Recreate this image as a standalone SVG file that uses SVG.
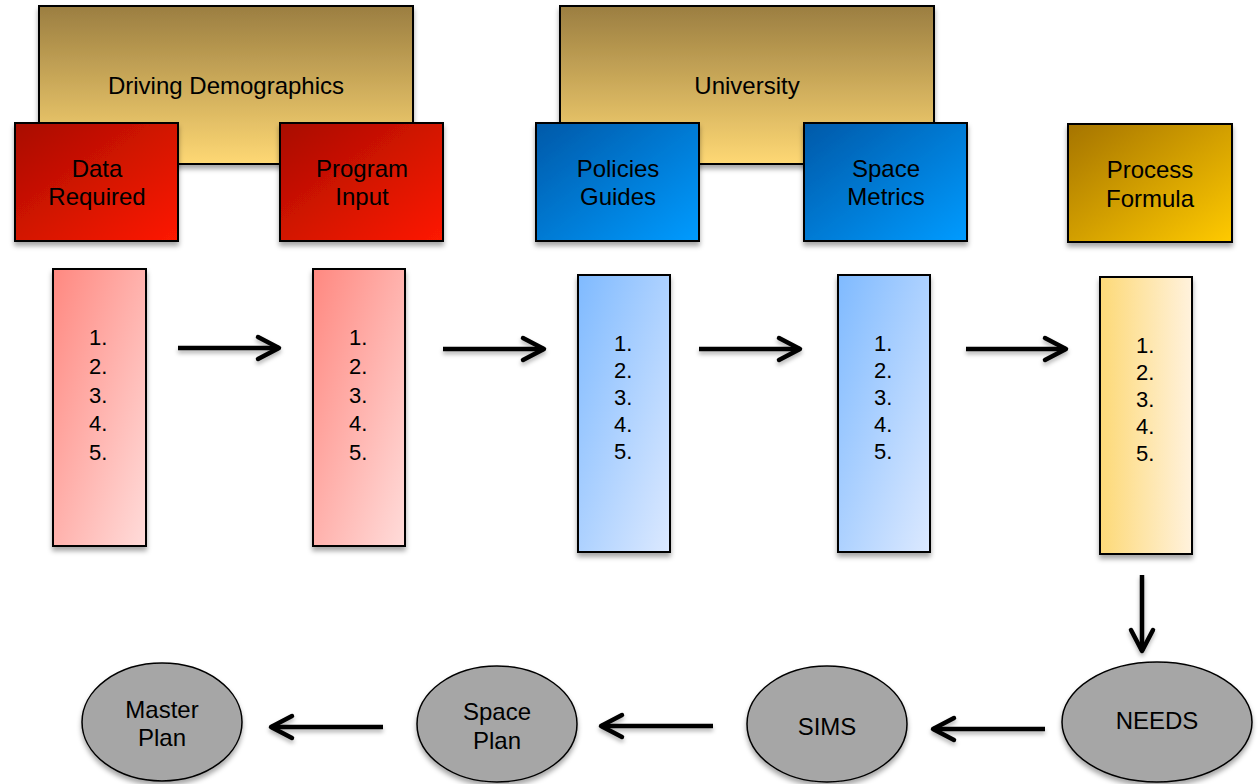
<svg xmlns="http://www.w3.org/2000/svg" width="1259" height="784" viewBox="0 0 1259 784">
<defs>
<linearGradient id="gTan" x1="0" y1="0" x2="0" y2="1"><stop offset="0" stop-color="#9b7e41"/><stop offset="1" stop-color="#fed874"/></linearGradient>
<linearGradient id="gRed" x1="0" y1="0" x2="1" y2="1"><stop offset="0" stop-color="#a80c00"/><stop offset="1" stop-color="#fe1a00"/></linearGradient>
<linearGradient id="gBlue" x1="0" y1="0" x2="1" y2="1"><stop offset="0" stop-color="#0059a8"/><stop offset="1" stop-color="#009bff"/></linearGradient>
<linearGradient id="gGold" x1="0" y1="0" x2="1" y2="1"><stop offset="0" stop-color="#a57400"/><stop offset="1" stop-color="#ffca00"/></linearGradient>
<linearGradient id="gRedL" x1="0" y1="0" x2="1" y2="1"><stop offset="0" stop-color="#ff8880"/><stop offset="1" stop-color="#ffdcda"/></linearGradient>
<linearGradient id="gBlueL" x1="0" y1="0" x2="1" y2="1"><stop offset="0" stop-color="#7fbaff"/><stop offset="1" stop-color="#dce9ff"/></linearGradient>
<linearGradient id="gGoldL" x1="0" y1="0" x2="1" y2="0"><stop offset="0" stop-color="#fdd977"/><stop offset="1" stop-color="#fff2dd"/></linearGradient>
<filter id="sh" x="-20%" y="-20%" width="140%" height="140%"><feDropShadow dx="0" dy="4" stdDeviation="2.5" flood-color="#000" flood-opacity="0.35"/></filter>
<filter id="shc" filterUnits="userSpaceOnUse" x="0" y="0" width="1259" height="784"><feDropShadow dx="0" dy="3" stdDeviation="2" flood-color="#000" flood-opacity="0.3"/></filter>
<marker id="arr" markerUnits="userSpaceOnUse" markerWidth="30" markerHeight="30" refX="22" refY="12" orient="auto" overflow="visible"><path d="M1,1 L22,12 L1,23" fill="none" stroke="#000" stroke-width="4.5" stroke-linecap="round" stroke-linejoin="round"/></marker>
<style>
.box{stroke:#000;stroke-width:2;filter:url(#sh)}
.ell{fill:#a6a6a6;stroke:#000;stroke-width:1.5;filter:url(#sh)}
.t{font-family:"Liberation Sans",Arial,sans-serif;font-size:24px;fill:#000;text-anchor:middle}
.te{font-family:"Liberation Sans",Arial,sans-serif;font-size:24px;fill:#000;text-anchor:middle}
.tl{font-family:"Liberation Sans",Arial,sans-serif;font-size:22px;fill:#000}
.c{stroke:#000;stroke-width:4.5;fill:none;marker-end:url(#arr)}
</style>
</defs>

<g id="driving-demographics"><rect class="box" x="39" y="6" width="374" height="158" fill="url(#gTan)"/><text class="t" x="226" y="94">Driving Demographics</text></g>
<g id="university"><rect class="box" x="560" y="6" width="374" height="158" fill="url(#gTan)"/><text class="t" x="747" y="94">University</text></g>

<g id="data-required"><rect class="box" x="15" y="123" width="163" height="118" fill="url(#gRed)"/><text class="t" x="97" y="177">Data</text><text class="t" x="97" y="205">Required</text></g>
<g id="program-input"><rect class="box" x="280" y="123" width="163" height="118" fill="url(#gRed)"/><text class="t" x="362" y="177">Program</text><text class="t" x="362" y="205">Input</text></g>
<g id="policies-guides"><rect class="box" x="536" y="123" width="163" height="118" fill="url(#gBlue)"/><text class="t" x="618" y="177">Policies</text><text class="t" x="618" y="205">Guides</text></g>
<g id="space-metrics"><rect class="box" x="804" y="123" width="163" height="118" fill="url(#gBlue)"/><text class="t" x="886" y="177">Space</text><text class="t" x="886" y="205">Metrics</text></g>
<g id="process-formula"><rect class="box" x="1068" y="124" width="164" height="118" fill="url(#gGold)"/><text class="t" x="1150" y="178">Process</text><text class="t" x="1150" y="207">Formula</text></g>

<g id="list-data"><rect class="box" x="53" y="269" width="93" height="277" fill="url(#gRedL)"/>
<text class="tl" x="89" y="345">1.</text><text class="tl" x="89" y="374">2.</text><text class="tl" x="89" y="403">3.</text><text class="tl" x="89" y="431">4.</text><text class="tl" x="89" y="460">5.</text></g>
<g id="list-program"><rect class="box" x="313" y="269" width="92" height="277" fill="url(#gRedL)"/>
<text class="tl" x="349" y="345">1.</text><text class="tl" x="349" y="374">2.</text><text class="tl" x="349" y="403">3.</text><text class="tl" x="349" y="431">4.</text><text class="tl" x="349" y="460">5.</text></g>
<g id="list-policies"><rect class="box" x="578" y="275" width="92" height="277" fill="url(#gBlueL)"/>
<text class="tl" x="614" y="351">1.</text><text class="tl" x="614" y="378">2.</text><text class="tl" x="614" y="405">3.</text><text class="tl" x="614" y="432">4.</text><text class="tl" x="614" y="459">5.</text></g>
<g id="list-metrics"><rect class="box" x="838" y="275" width="92" height="277" fill="url(#gBlueL)"/>
<text class="tl" x="874" y="351">1.</text><text class="tl" x="874" y="378">2.</text><text class="tl" x="874" y="405">3.</text><text class="tl" x="874" y="432">4.</text><text class="tl" x="874" y="459">5.</text></g>
<g id="list-process"><rect class="box" x="1100" y="277" width="92" height="277" fill="url(#gGoldL)"/>
<text class="tl" x="1136" y="353">1.</text><text class="tl" x="1136" y="380">2.</text><text class="tl" x="1136" y="407">3.</text><text class="tl" x="1136" y="434">4.</text><text class="tl" x="1136" y="461">5.</text></g>

<g id="needs"><ellipse class="ell" cx="1157" cy="722" rx="95" ry="60"/><text class="te" x="1157" y="729">NEEDS</text></g>
<g id="sims"><ellipse class="ell" cx="827" cy="724" rx="80" ry="58"/><text class="te" x="827" y="735">SIMS</text></g>
<g id="space-plan"><ellipse class="ell" cx="497" cy="724" rx="80" ry="58"/><text class="te" x="497" y="720">Space</text><text class="te" x="497" y="749">Plan</text></g>
<g id="master-plan"><ellipse class="ell" cx="162" cy="722" rx="80" ry="59"/><text class="te" x="162" y="718">Master</text><text class="te" x="162" y="746">Plan</text></g>

<g id="connectors" filter="url(#shc)">
<path class="c" d="M178 348 H279"/>
<path class="c" d="M443 349 H544"/>
<path class="c" d="M699 349 H800"/>
<path class="c" d="M966 349 H1066"/>
<path class="c" d="M1142 575 V651"/>
<path class="c" d="M1045 729 H933"/>
<path class="c" d="M713 726 H601"/>
<path class="c" d="M383 727 H271"/>
</g>
</svg>
